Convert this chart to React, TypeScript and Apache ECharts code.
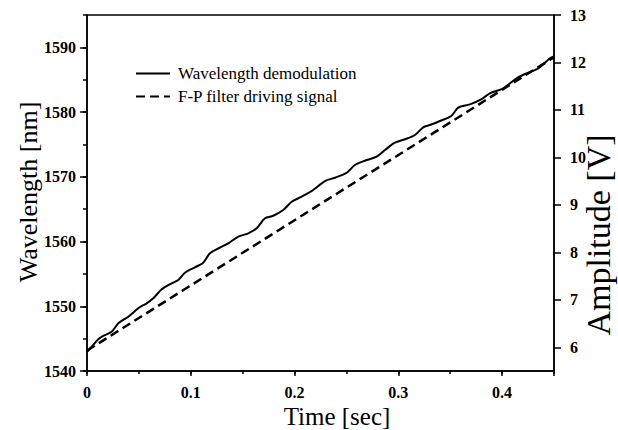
import React, { useEffect, useRef } from "react";
import * as echarts from "echarts";

// Time [sec] samples of the demodulated wavelength trace
const demodTime = [
  0, 0.0045, 0.0109, 0.0173, 0.0238, 0.0302, 0.0398, 0.0494, 0.0575, 0.0639,
  0.072, 0.0816, 0.088, 0.0944, 0.104, 0.112, 0.1185, 0.1281, 0.1361, 0.1458,
  0.1554, 0.1635, 0.1715, 0.1795, 0.1891, 0.1972, 0.2068, 0.218, 0.2293, 0.2389,
  0.2502, 0.2582, 0.2678, 0.2791, 0.2871, 0.2967, 0.3064, 0.316, 0.324, 0.3304,
  0.3401, 0.3513, 0.3577, 0.369, 0.3802, 0.3882, 0.4011, 0.414, 0.4236, 0.4348,
  0.4461, 0.4492,
];
// Wavelength [nm]
const demodWavelength = [
  1542.98, 1543.75, 1544.9, 1545.56, 1546.07, 1547.37, 1548.39, 1549.69, 1550.46, 1551.23,
  1552.62, 1553.55, 1554.06, 1555.19, 1556.02, 1556.73, 1558.18, 1559.05, 1559.73, 1560.75,
  1561.27, 1562.05, 1563.59, 1563.99, 1564.87, 1566.15, 1566.93, 1567.96, 1569.35, 1569.86,
  1570.63, 1571.82, 1572.49, 1573.11, 1574.14, 1575.27, 1575.8, 1576.46, 1577.65, 1578.0,
  1578.62, 1579.44, 1580.68, 1581.2, 1582.02, 1582.9, 1583.67, 1585.22, 1585.99, 1586.76,
  1588.31, 1588.56,
];
// F-P filter driving signal: time [sec] and amplitude [V]
const driveTime = [0, 0.45];
const driveAmplitude = [5.93, 12.11];

const xMajorTicks = [0, 0.1, 0.2, 0.3, 0.4];
const yLeftMajorTicks = [1540, 1550, 1560, 1570, 1580, 1590];
const yRightTicks = [6, 7, 8, 9, 10, 11, 12, 13];

const seriesNames = ["Wavelength demodulation", "F-P filter driving signal"];

const FONT = "'Liberation Serif', 'Times New Roman', serif";

export default function App() {
  const ref = useRef<HTMLDivElement>(null);

  useEffect(() => {
    document.body.style.margin = "0";
    if (!ref.current) return;
    const chart = echarts.init(ref.current, null, { renderer: "svg" });

    const axisLineStyle = { color: "#000", width: 1.5 };
    const labelStyle = {
      color: "#000",
      fontSize: 16,
      fontWeight: "bold" as const,
      fontFamily: FONT,
    };

    chart.setOption({
      animation: false,
      backgroundColor: "#fff",
      grid: {
        left: 87,
        right: 64,
        top: 15,
        bottom: 59,
        show: true,
        borderColor: "#000",
        borderWidth: 1.5,
        backgroundColor: "transparent",
      },
      legend: {
        data: seriesNames,
        orient: "vertical",
        left: 130,
        top: 60,
        itemWidth: 34,
        itemHeight: 10,
        itemGap: 6,
        itemStyle: { opacity: 0 },
        textStyle: { color: "#000", fontSize: 17, fontFamily: FONT, padding: [0, 0, 0, 3] },
      },
      xAxis: [
        {
          type: "value",
          min: 0,
          max: 0.45,
          position: "bottom",
          axisLine: { show: true, onZero: false, lineStyle: axisLineStyle },
          axisTick: {
            show: true,
            inside: false,
            length: 5,
            customValues: [...xMajorTicks, 0.45],
            lineStyle: axisLineStyle,
          },
          axisLabel: {
            ...labelStyle,
            customValues: xMajorTicks,
            margin: 13,
            formatter: (v: number) => String(Math.round(v * 10) / 10),
          },
          splitLine: { show: false },
        },
        {
          type: "value",
          min: 0,
          max: 0.45,
          interval: 0.05,
          position: "bottom",
          axisLine: { show: false, onZero: false },
          axisTick: { show: true, inside: false, length: 3, lineStyle: axisLineStyle },
          axisLabel: { show: false },
          splitLine: { show: false },
        },
      ],
      yAxis: [
        {
          type: "value",
          min: 1540,
          max: 1595,
          position: "left",
          axisLine: { show: true, onZero: false, lineStyle: axisLineStyle },
          axisTick: {
            show: true,
            inside: false,
            length: 7,
            customValues: yLeftMajorTicks,
            lineStyle: axisLineStyle,
          },
          axisLabel: {
            ...labelStyle,
            customValues: yLeftMajorTicks,
            margin: 11,
            formatter: (v: number) => String(v),
          },
          splitLine: { show: false },
        },
        {
          type: "value",
          min: 1540,
          max: 1595,
          interval: 5,
          position: "left",
          axisLine: { show: false, onZero: false },
          axisTick: { show: true, inside: false, length: 4, lineStyle: axisLineStyle },
          axisLabel: { show: false },
          splitLine: { show: false },
        },
        {
          type: "value",
          min: 5.5,
          max: 13,
          position: "right",
          axisLine: { show: true, onZero: false, lineStyle: axisLineStyle },
          axisTick: {
            show: true,
            inside: false,
            length: 7,
            customValues: yRightTicks,
            lineStyle: axisLineStyle,
          },
          axisLabel: {
            ...labelStyle,
            customValues: yRightTicks,
            margin: 16,
            formatter: (v: number) => String(v),
          },
          splitLine: { show: false },
        },
      ],
      graphic: [
        {
          type: "text",
          x: 28,
          y: 192,
          rotation: Math.PI / 2,
          style: {
            text: "Wavelength [nm]",
            font: `26px ${FONT}`,
            fill: "#000",
            textAlign: "center",
            textVerticalAlign: "middle",
          },
        },
        {
          type: "text",
          x: 598,
          y: 235,
          rotation: Math.PI / 2,
          style: {
            text: "Amplitude [V]",
            font: `34px ${FONT}`,
            fill: "#000",
            textAlign: "center",
            textVerticalAlign: "middle",
          },
        },
        {
          type: "text",
          x: 337,
          y: 416,
          style: {
            text: "Time [sec]",
            font: `25px ${FONT}`,
            fill: "#000",
            textAlign: "center",
            textVerticalAlign: "middle",
          },
        },
      ],
      series: [
        {
          name: seriesNames[0],
          type: "line",
          xAxisIndex: 0,
          yAxisIndex: 0,
          data: demodTime.map((t, i) => [t, demodWavelength[i]]),
          symbol: "none",
          showSymbol: false,
          smooth: 0.3,
          lineStyle: { color: "#000", width: 2 },
          itemStyle: { color: "rgba(0,0,0,0)" },
        },
        {
          name: seriesNames[1],
          type: "line",
          xAxisIndex: 0,
          yAxisIndex: 2,
          data: driveTime.map((t, i) => [t, driveAmplitude[i]]),
          symbol: "none",
          showSymbol: false,
          lineStyle: { color: "#000", width: 2.5, type: [9, 5] },
          itemStyle: { color: "rgba(0,0,0,0)" },
        },
      ],
    });

    return () => chart.dispose();
  }, []);

  return <div ref={ref} style={{ width: 618, height: 430 }} />;
}
